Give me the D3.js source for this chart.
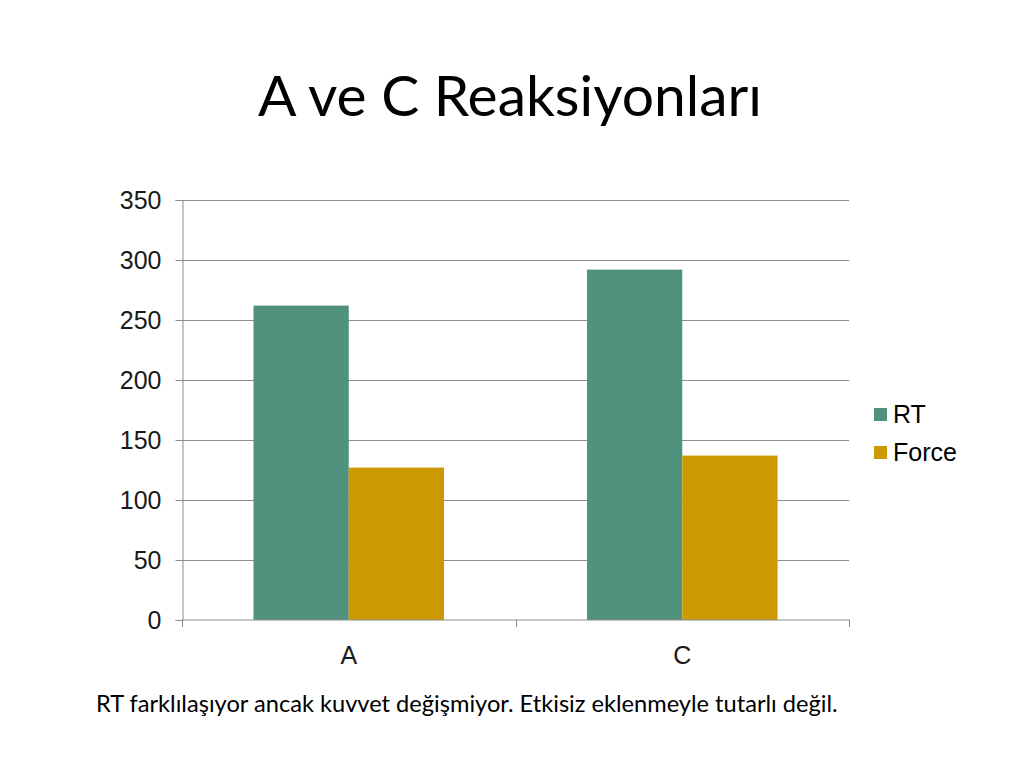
<!DOCTYPE html>
<html>
<head>
<meta charset="utf-8">
<script src="https://cdn.jsdelivr.net/npm/d3@7"></script>
<style>
  body { margin: 0; background: #fff; }
  svg { display: block; }
</style>
</head>
<body>
<div id="chart"></div>
<script>
var categories = ["A", "C"];
var seriesNames = ["RT", "Force"];
var rtValues = [262, 292];
var forceValues = [127, 137];
var yTicks = [0, 50, 100, 150, 200, 250, 300, 350];
var titleText = "A ve C Reaksiyonları";
var noteText = "RT farklılaşıyor ancak kuvvet değişmiyor. Etkisiz eklenmeyle tutarlı değil.";

(function () {
    var width = 1024, height = 768;
    var plot = { left: 182, right: 849, top: 200, bottom: 620 };
    var colors = { RT: "#50927d", Force: "#cc9900" };
    var gridColor = "#8e8e8e";
    var labelFont = "'Liberation Sans', Arial, sans-serif";

    var svg = d3.select("#chart").append("svg")
        .attr("width", width)
        .attr("height", height);

    // fit text to a target width by tweaking font-size
    var fitText = function (sel, target) {
        var w = sel.node().getComputedTextLength();
        var fs = parseFloat(sel.attr("font-size"));
        sel.attr("font-size", fs * target / w);
    };

    var title = svg.append("text")
        .text(titleText)
        .attr("x", 510)
        .attr("y", 116)
        .attr("text-anchor", "middle")
        .attr("font-family", "Lato, 'Open Sans', sans-serif")
        .attr("font-size", 60)
        .attr("fill", "#000");
    fitText(title, 504);

    var x0 = d3.scaleBand()
        .domain(categories)
        .range([plot.left, plot.right]);

    var x1 = d3.scaleBand()
        .domain(seriesNames)
        .range([0, x0.bandwidth()])
        .paddingInner(0)
        .paddingOuter(0.75);

    var y = d3.scaleLinear()
        .domain([0, 350])
        .range([plot.bottom, plot.top]);

    // gridlines
    svg.append("g")
        .selectAll("line")
        .data(yTicks.slice(1))
        .enter().append("line")
        .attr("x1", plot.left)
        .attr("x2", plot.right)
        .attr("y1", d => Math.round(y(d)) + 0.5)
        .attr("y2", d => Math.round(y(d)) + 0.5)
        .attr("stroke", gridColor)
        .attr("stroke-width", 1);

    // bars
    var data = categories.map((c, i) => ({ cat: c, vals: [
        { key: "RT", value: rtValues[i] },
        { key: "Force", value: forceValues[i] }
    ] }));

    svg.append("g")
        .selectAll("g")
        .data(data)
        .enter().append("g")
        .attr("transform", d => "translate(" + x0(d.cat) + ",0)")
        .selectAll("rect")
        .data(d => d.vals)
        .enter().append("rect")
        .attr("x", d => x1(d.key))
        .attr("width", x1.bandwidth())
        .attr("y", d => y(d.value))
        .attr("height", d => y(0) - y(d.value))
        .attr("fill", d => colors[d.key]);

    // y axis
    var yAxis = d3.axisLeft(y)
        .tickValues(yTicks)
        .tickSize(7)
        .tickPadding(14);

    var yg = svg.append("g")
        .attr("transform", "translate(" + (plot.left + 0.5) + ",0)")
        .call(yAxis);
    yg.select(".domain").attr("stroke", gridColor);
    yg.selectAll(".tick line").attr("stroke", gridColor);
    yg.selectAll(".tick text")
        .attr("font-family", labelFont)
        .attr("font-size", 25)
        .attr("fill", "#1a1a1a");

    // x axis
    var xAxis = d3.axisBottom(x0)
        .tickSize(0)
        .tickPadding(27);

    var xg = svg.append("g")
        .attr("transform", "translate(0," + (plot.bottom - 0.5) + ")")
        .call(xAxis);
    xg.select(".domain").attr("stroke", gridColor);
    xg.selectAll(".tick text")
        .attr("font-family", labelFont)
        .attr("font-size", 25)
        .attr("fill", "#1a1a1a");

    // category separator ticks
    var sepX = categories.map(c => x0(c)).concat([x0(categories[categories.length - 1]) + x0.bandwidth()]);
    svg.append("g")
        .selectAll("line")
        .data(sepX)
        .enter().append("line")
        .attr("x1", d => Math.round(d) + 0.5)
        .attr("x2", d => Math.round(d) + 0.5)
        .attr("y1", plot.bottom - 0.5)
        .attr("y2", plot.bottom + 7)
        .attr("stroke", gridColor);

    // legend
    var legend = svg.append("g")
        .attr("transform", "translate(874,408)");

    var items = legend.selectAll("g")
        .data(seriesNames)
        .enter().append("g")
        .attr("transform", (d, i) => "translate(0," + (i * 38) + ")");

    items.append("rect")
        .attr("width", 13)
        .attr("height", 13)
        .attr("fill", d => colors[d]);

    items.append("text")
        .text(d => d)
        .attr("x", 19)
        .attr("y", 15)
        .attr("font-family", labelFont)
        .attr("font-size", 25)
        .attr("fill", "#000");

    var note = svg.append("text")
        .text(noteText)
        .attr("x", 96)
        .attr("y", 712)
        .attr("font-family", "Lato, 'Open Sans', sans-serif")
        .attr("font-size", 20)
        .attr("fill", "#000");
    fitText(note, 742);
})();
</script>
</body>
</html>
